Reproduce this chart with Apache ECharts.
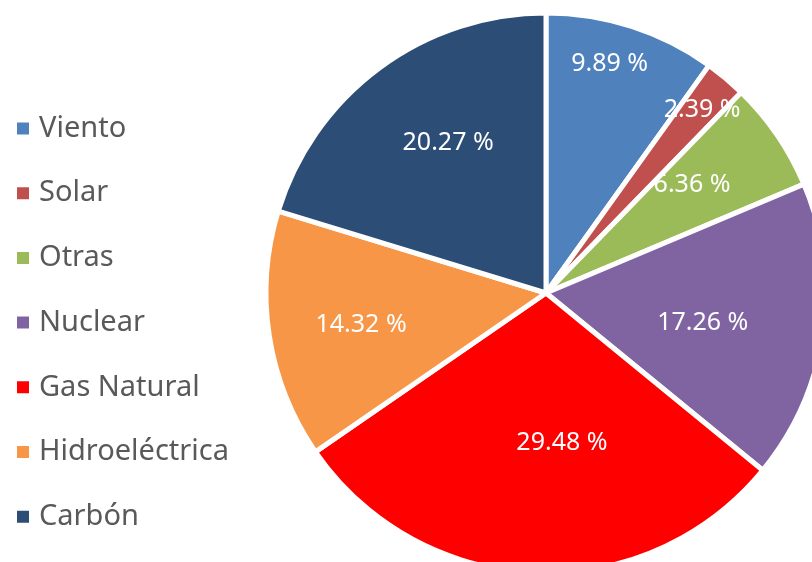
<!DOCTYPE html>
<html>
<head>
<meta charset="utf-8">
<script src="https://cdn.jsdelivr.net/npm/echarts@6/dist/echarts.min.js"></script>
<style>
  html, body { margin: 0; padding: 0; background: #fff; }
  #chart { width: 812px; height: 562px; }
</style>
</head>
<body>
<div id="chart"></div>
<script>
// data
var categories = ['Viento', 'Solar', 'Otras', 'Nuclear', 'Gas Natural', 'Hidroeléctrica', 'Carbón']
var shares = [9.89, 2.39, 6.36, 17.26, 29.48, 14.32, 20.27]
var colors = ['#4F81BD', '#C0504D', '#9BBB59', '#8064A2', '#FF0000', '#F79646', '#2C4D75']

// layout
var center = [546, 293]
var radius = 280
// label placement: fraction of radius and angle nudge (deg) from slice middle
var labelDist = [0.85, 0.86, 0.65, 0.57, 0.54, 0.67, 0.64]
var labelTurn = [-2.3, 0.5, -2.3, 2.6, -8.4, -0.9, 3.4]

var total = shares.reduce(function (a, b) { return a + b }, 0)
var midAngles = []
var acc = 0
shares.forEach(function (v) {
  midAngles.push((acc + v / 2) / total * Math.PI * 2)
  acc += v
})

var chart = echarts.init(document.getElementById('chart'))
chart.setOption({
  animation: false,
  color: colors,
  legend: {
    orient: 'vertical',
    left: 10,
    top: 109,
    itemWidth: 14,
    itemHeight: 14,
    itemGap: 35.7,
    icon: 'rect',
    data: categories,
    textStyle: {
      fontFamily: 'Noto Sans',
      fontSize: 29,
      lineHeight: 28,
      color: '#595959',
      padding: [0, 0, 0, 4]
    }
  },
  series: [
    {
      type: 'pie',
      center: center,
      radius: radius,
      startAngle: 90,
      clockwise: true,
      itemStyle: { borderColor: '#fff', borderWidth: 5 },
      label: {
        position: 'inside',
        color: '#fff',
        fontFamily: 'Noto Sans',
        fontSize: 25,
        formatter: function (p) { return p.value.toFixed(2) + ' %' }
      },
      labelLine: { show: false },
      labelLayout: function (p) {
        var i = p.dataIndex
        var r = labelDist[i] * radius
        var a = midAngles[i] + labelTurn[i] * Math.PI / 180
        return {
          x: center[0] + r * Math.sin(a),
          y: center[1] - r * Math.cos(a),
          align: 'center',
          verticalAlign: 'middle'
        }
      },
      data: categories.map(function (name, i) {
        return { name: name, value: shares[i] }
      })
    }
  ]
})
</script>
</body>
</html>
